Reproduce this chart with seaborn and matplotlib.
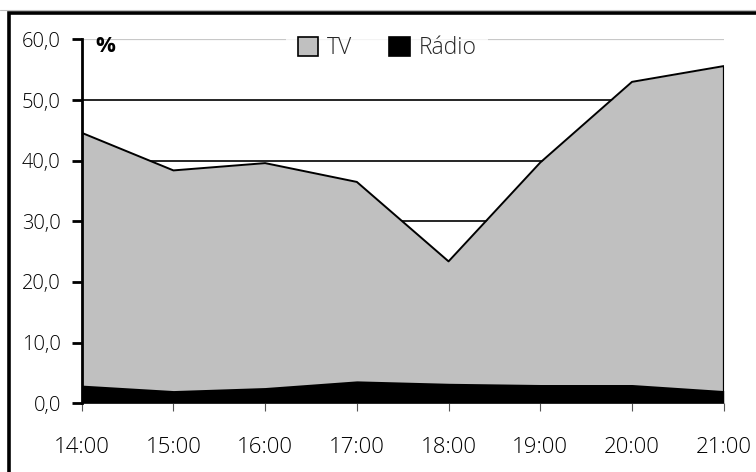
import matplotlib
matplotlib.use("Agg")
import matplotlib.pyplot as plt
from matplotlib.patches import Rectangle, Patch
from matplotlib.lines import Line2D
import seaborn as sns
import pandas as pd

# Audience share by hour (%)
hours = ["14:00", "15:00", "16:00", "17:00", "18:00", "19:00", "20:00", "21:00"]
tv = [44.6, 38.4, 39.6, 36.5, 23.4, 39.7, 53.0, 55.6]
radio = [3.0, 2.1, 2.6, 3.7, 3.3, 3.1, 3.1, 2.1]
y_ticks = [0, 10, 20, 30, 40, 50, 60]

df = pd.DataFrame({"pos": range(len(hours)), "hour": hours, "TV": tv, "Rádio": radio})

sns.set_theme(style="white")
plt.rcParams["font.family"] = ["Open Sans", "DejaVu Sans"]

W, H = 756, 472
fig = plt.figure(figsize=(W / 100, H / 100), dpi=100)
fig.patch.set_facecolor("white")

# outer frame (runs off the right and bottom edges)
fig.add_artist(Line2D([0, 1], [1 - 9.5 / H] * 2, transform=fig.transFigure,
                      color="#bdbdbd", lw=0.8))
fig.add_artist(Rectangle((9.2 / W, -0.2), 1.2, 1.2 - 12.5 / H,
                         transform=fig.transFigure, fill=False,
                         edgecolor="black", lw=2.6, clip_on=False))

ax = fig.add_axes([81.7 / W, (H - 403.3) / H, (723.7 - 81.7) / W, (403.3 - 39.4) / H])
ax.set_facecolor("white")

# horizontal gridlines behind the areas
for v in (30, 40, 50):
    ax.axhline(v, color="black", lw=1.2, zorder=0)
ax.axhline(60, color="#c8c8c8", lw=1.6, zorder=0)

# TV area with outline, radio area on top
ax.fill_between(df["pos"], 0, df["TV"], color="#c0c0c0", lw=0, zorder=1)
sns.lineplot(data=df, x="pos", y="TV", color="black", lw=1.4, ax=ax, zorder=2)
ax.vlines(df["pos"].iloc[-1], 0, df["TV"].iloc[-1], color="black", lw=1.6, zorder=2)
ax.fill_between(df["pos"], 0, df["Rádio"], color="black", lw=0, zorder=3)

ax.set_xlim(0, len(hours) - 1)
ax.set_ylim(0, 60)
ax.set_xticks(df["pos"])
ax.set_xticklabels(hours, fontweight="light")
ax.set_yticks(y_ticks)
ax.set_yticklabels([f"{v:.1f}".replace(".", ",") for v in y_ticks], fontweight="light")
ax.set_xlabel("")
ax.set_ylabel("")

for s in ("top", "right", "bottom"):
    ax.spines[s].set_visible(False)
ax.spines["left"].set_color("black")
ax.spines["left"].set_linewidth(2.0)
ax.spines["left"].set_zorder(5)

ax.tick_params(axis="y", direction="out", length=7, width=2.0, color="black",
               pad=8, labelsize=14.5, labelcolor="black", left=True)
ax.tick_params(axis="x", direction="out", length=6, width=0.8, color="#555555",
               pad=18, labelsize=16, labelcolor="black", bottom=True)

ax.text(0.021, 60.5, "%", transform=ax.get_yaxis_transform(), ha="left", va="top",
        fontsize=16, fontweight="bold", color="black", zorder=7)

handles = [Patch(facecolor="#c0c0c0", edgecolor="black", lw=1.2, label="TV"),
           Patch(facecolor="black", edgecolor="black", lw=1.2, label="Rádio")]
leg = ax.legend(handles=handles, loc="center", bbox_to_anchor=(0.4756, 0.975),
                ncol=2, frameon=True, handlelength=0.9,
                handleheight=0.9, handletextpad=0.39, columnspacing=1.6,
                borderpad=0.5, borderaxespad=0, fancybox=False,
                prop={"size": 16.5, "weight": "light"})
leg.get_frame().set_facecolor("white")
leg.get_frame().set_edgecolor("white")
leg.get_frame().set_linewidth(0)
leg.set_zorder(6)

fig.savefig("out.png", dpi=100)
